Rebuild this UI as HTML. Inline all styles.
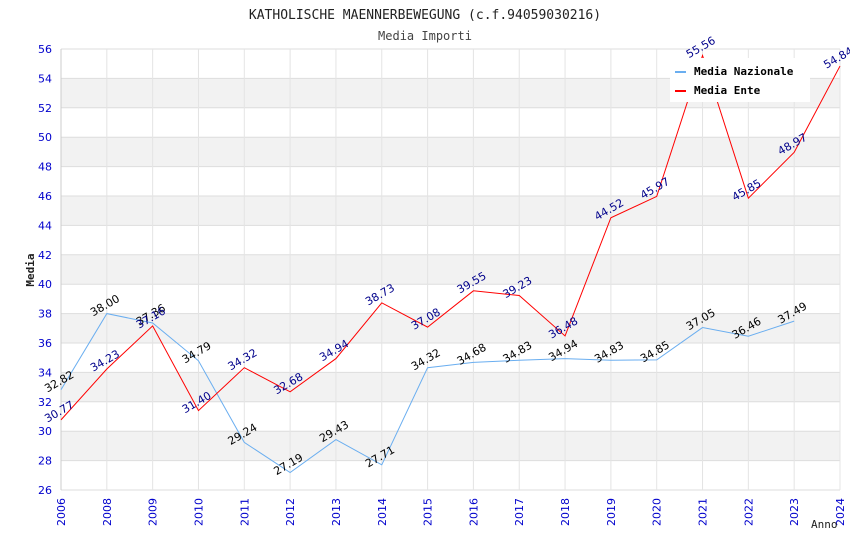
<!DOCTYPE html>
<html><head><meta charset="utf-8"><style>
body{margin:0;background:#fff;}
svg text{font-family:"DejaVu Sans","Liberation Sans",sans-serif;}
svg text.mono{font-family:"DejaVu Sans Mono","Liberation Mono",monospace;}
</style></head><body>
<svg id="chart" width="850" height="550" xmlns="http://www.w3.org/2000/svg">
<text class="mono" x="425" y="19" text-anchor="middle" font-size="13" fill="#222">KATHOLISCHE MAENNERBEWEGUNG (c.f.94059030216)</text>
<text class="mono" x="425" y="40" text-anchor="middle" font-size="12" fill="#444">Media Importi</text>
<g id="bands"></g><g id="grid"></g><g id="axes"></g><g id="series"></g><g id="labels"></g>
<text class="mono" transform="translate(34,270) rotate(-90)" text-anchor="middle" font-size="11" font-weight="bold" fill="#222">Media</text>
<text class="mono" x="811" y="528" font-size="11" fill="#222">Anno</text>
<g>
<rect x="670" y="58" width="140" height="44" fill="#fff"/>
<rect x="675" y="71" width="11" height="2" fill="#6aaef0"/>
<text class="mono" x="694" y="75" font-size="11" font-weight="bold" fill="#000">Media Nazionale</text>
<rect x="675" y="90" width="11" height="2" fill="#f00"/>
<text class="mono" x="694" y="94" font-size="11" font-weight="bold" fill="#000">Media Ente</text>
</g>
</svg>
<script>
const years=["2006","2008","2009","2010","2011","2012","2013","2014","2015","2016","2017","2018","2019","2020","2021","2022","2023","2024"];
const nazionale=[32.82,38.00,37.36,34.79,29.24,27.19,29.43,27.71,34.32,34.68,34.83,34.94,34.83,34.85,37.05,36.46,37.49,null];
const ente=[30.77,34.23,37.16,31.40,34.32,32.68,34.94,38.73,37.08,39.55,39.23,36.48,44.52,45.97,55.56,45.85,48.97,54.84];
const yTicks=[26,28,30,32,34,36,38,40,42,44,46,48,50,52,54,56];
const NS="http://www.w3.org/2000/svg";
const X0=61,X1=840,Y0=490,Y1=49,YMIN=26,YMAX=56;
const x=i=>X0+(X1-X0)*i/(years.length-1);
const y=v=>Y0-(v-YMIN)*(Y0-Y1)/(YMAX-YMIN);
function mk(tag,attrs,parent){const e=document.createElementNS(NS,tag);for(const k in attrs)e.setAttribute(k,attrs[k]);document.getElementById(parent).appendChild(e);return e;}
for(let i=0;i<yTicks.length-1;i++){
 const v=yTicks[i];
 if(v%4===0){const r=mk('rect',{x:X0,y:y(v+2),width:X1-X0,height:y(v)-y(v+2),fill:'#f2f2f2'},'bands');
 
 }
}
yTicks.forEach(v=>{
 const l=mk('line',{x1:X0,x2:X1,y1:y(v),y2:y(v),stroke:'#ddd','stroke-width':1},'grid');
 
 
 const t=mk('text',{x:X0-9,y:y(v)+4,'text-anchor':'end','font-size':11,fill:'#00c'},'axes');
 
 
 t.textContent=v;
});
years.forEach((yr,i)=>{
 const l=mk('line',{x1:x(i),x2:x(i),y1:Y1,y2:Y0,stroke:'#e4e4e4'},'grid');
 
 
 const t=mk('text',{transform:`translate(${x(i)+4},${Y0+36}) rotate(-90)`,'font-size':11,fill:'#00c'},'axes');
 
 
 t.textContent=yr;
});
const ax=mk('line',{x1:X0,x2:X0,y1:Y1,y2:Y0,stroke:'#ccc'},'axes');


function series(data,color,lab,name){
 let pts=[];data.forEach((v,i)=>{if(v!==null)pts.push(x(i)+','+y(v));});
 const p=mk('polyline',{points:pts.join(' '),fill:'none',stroke:color,'stroke-width':1},'series');
 
 
 data.forEach((v,i)=>{if(v===null)return;
  const t=mk('text',{transform:`translate(${x(i)},${y(v)-5}) rotate(-30)`,'text-anchor':'middle','font-size':11,fill:lab},'labels');
  
  
  t.textContent=v.toFixed(2);});
}
series(nazionale,'#6aaef0','#000','nazionale');
series(ente,'#f00','#00008b','ente');
</script>
</body></html>
